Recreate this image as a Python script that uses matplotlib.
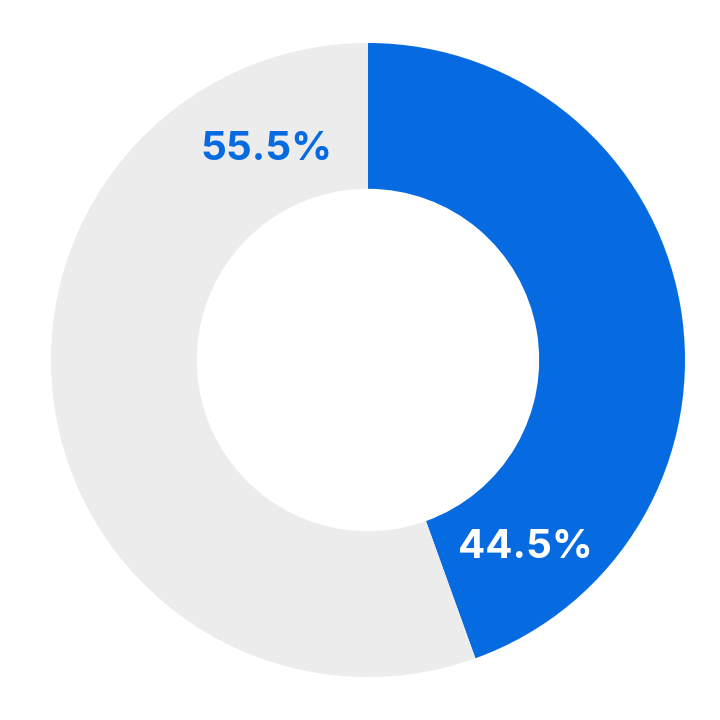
import numpy as np
import matplotlib
matplotlib.use("Agg")
import matplotlib.pyplot as plt

labels = ["Blue share", "Grey share"]
shares = [44.5, 55.5]
colors = ["#066ae0", "#ececec"]
text_colors = ["white", "#066ae0"]

# where each label sits (angle in degrees, radius in data units)
label_angles = [-50.0, 115.7]
label_radii = [0.771, 0.738]

fig = plt.figure(figsize=(7.2, 7.2), dpi=100)
ax = fig.add_axes([0.0708, 0.0597, 0.8806, 0.8806])

ax.pie(shares, colors=colors, startangle=90, counterclock=False,
       radius=1.0, wedgeprops=dict(width=0.46, linewidth=0))

for val, tc, ang, r in zip(shares, text_colors, label_angles, label_radii):
    a = np.deg2rad(ang)
    ax.text(r * np.cos(a), r * np.sin(a), f"{val:.1f}%", color=tc,
            ha="center", va="center", fontsize=29, fontweight="bold",
            family=["Inter", "DejaVu Sans"])

ax.set_xlim(-1, 1)
ax.set_ylim(-1, 1)
ax.set_aspect("equal")
ax.axis("off")

fig.savefig("out.png", dpi=100)
